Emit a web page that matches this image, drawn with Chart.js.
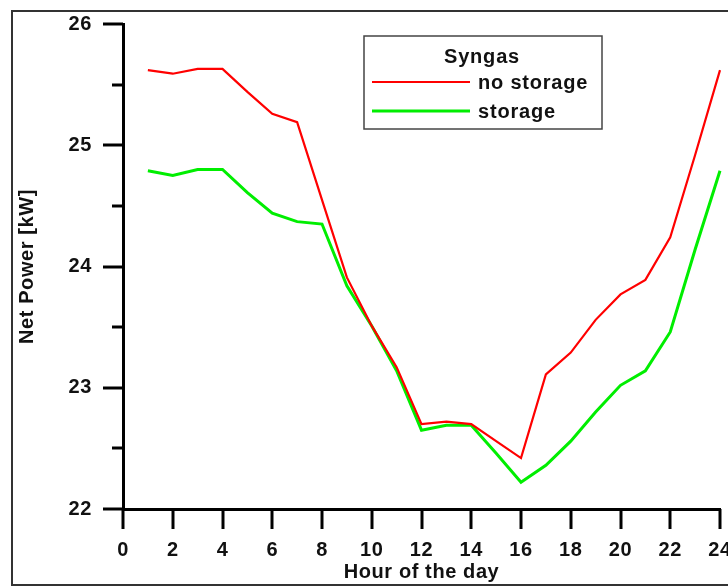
<!DOCTYPE html>
<html>
<head>
<meta charset="utf-8">
<script src="https://cdn.jsdelivr.net/npm/chart.js@4/dist/chart.umd.min.js"></script>
<style>
  html, body { margin: 0; padding: 0; background: #fff; }
  #wrap { position: relative; width: 728px; height: 586px; }
</style>
</head>
<body>
<div id="wrap"><canvas id="c" width="728" height="586"></canvas></div>
<script>
// Hour of the day
const hours = [1, 2, 3, 4, 5, 6, 7, 8, 9, 10, 11, 12, 13, 14, 15, 16, 17, 18, 19, 20, 21, 22, 23, 24];
// Net power [kW] without storage
const noStorage = [25.62, 25.59, 25.63, 25.63, 25.44, 25.26, 25.19, 24.55, 23.91, 23.51, 23.17, 22.70,
                   22.72, 22.70, 22.56, 22.42, 23.11, 23.29, 23.56, 23.77, 23.89, 24.24, 24.92, 25.62];
// Net power [kW] with storage
const storage = [24.79, 24.75, 24.80, 24.80, 24.61, 24.44, 24.37, 24.35, 23.84, 23.51, 23.14, 22.65,
                 22.69, 22.69, 22.46, 22.22, 22.36, 22.56, 22.80, 23.02, 23.14, 23.46, 24.14, 24.79];
const seriesLabels = ['no storage', 'storage'];
const legendTitle = 'Syngas';
const xTitle = 'Hour of the day';
const yTitle = 'Net Power [kW]';

const FONT = '"Liberation Sans", Arial, sans-serif';

const toPoints = (ys) => hours.map((h, i) => ({ x: h, y: ys[i] }));

// Outer frame, slight letter spacing for all text
const framePlugin = {
  id: 'frame',
  beforeDraw(chart) {
    const ctx = chart.ctx;
    ctx.save();
    ctx.fillStyle = '#fff';
    ctx.fillRect(0, 0, chart.width, chart.height);
    ctx.lineWidth = 2;
    ctx.strokeStyle = '#333';
    ctx.strokeRect(12, 11, 800, 574);
    ctx.restore();
    ctx.letterSpacing = '0.6px';
  }
};

// Tick marks: major and minor on y, major on x
const tickPlugin = {
  id: 'ticks',
  afterDatasetsDraw(chart) {
    const ctx = chart.ctx;
    const xs = chart.scales.x, ys = chart.scales.y;
    const left = chart.chartArea.left, bottom = chart.chartArea.bottom;
    ctx.save();
    ctx.strokeStyle = '#000';
    ctx.lineWidth = 3;
    ctx.lineCap = 'butt';
    for (let v = 22; v <= 26.001; v += 0.5) {
      const y = Math.round(ys.getPixelForValue(v));
      const major = Math.abs(v - Math.round(v)) < 1e-6;
      ctx.beginPath();
      ctx.moveTo(left - (major ? 20 : 11), y);
      ctx.lineTo(left, y);
      ctx.stroke();
    }
    for (let v = 0; v <= 24; v += 2) {
      const x = Math.round(xs.getPixelForValue(v));
      ctx.beginPath();
      ctx.moveTo(x, bottom);
      ctx.lineTo(x, bottom + 20);
      ctx.stroke();
    }
    ctx.restore();
  }
};

// Boxed legend with title inside the plot
const legendPlugin = {
  id: 'boxLegend',
  afterDraw(chart) {
    const ctx = chart.ctx;
    ctx.save();
    ctx.letterSpacing = '0.8px';
    const bx = 364, by = 36, bw = 238, bh = 93;
    ctx.fillStyle = '#fff';
    ctx.fillRect(bx, by, bw, bh);
    ctx.strokeStyle = '#444';
    ctx.lineWidth = 1.5;
    ctx.strokeRect(bx, by, bw, bh);
    ctx.fillStyle = '#111';
    ctx.font = 'bold 20px ' + FONT;
    ctx.textBaseline = 'middle';
    ctx.textAlign = 'center';
    ctx.fillText(legendTitle, bx + 118, by + 21);
    ctx.textAlign = 'left';
    const rows = [by + 46, by + 75];
    chart.data.datasets.forEach((ds, i) => {
      ctx.strokeStyle = ds.borderColor;
      ctx.lineWidth = ds.borderWidth;
      ctx.beginPath();
      ctx.moveTo(bx + 8, rows[i]);
      ctx.lineTo(bx + 106, rows[i]);
      ctx.stroke();
      ctx.fillStyle = '#111';
      ctx.fillText(ds.label, bx + 114, rows[i] + 1);
    });
    ctx.restore();
  }
};

new Chart(document.getElementById('c'), {
  type: 'line',
  data: {
    datasets: [
      { label: seriesLabels[0], data: toPoints(noStorage), borderColor: '#ff0000', borderWidth: 2.2,
        pointRadius: 0, tension: 0, fill: false, clip: false },
      { label: seriesLabels[1], data: toPoints(storage), borderColor: '#00ee00', borderWidth: 3,
        pointRadius: 0, tension: 0, fill: false, clip: false }
    ]
  },
  options: {
    responsive: false,
    animation: false,
    devicePixelRatio: 1,
    layout: { padding: { left: 0, top: 24, right: 8, bottom: 0 } },
    plugins: { legend: { display: false }, tooltip: { enabled: false } },
    scales: {
      x: {
        type: 'linear', min: 0, max: 24,
        grid: { display: false, drawTicks: false },
        border: { display: true, color: '#000', width: 3 },
        ticks: { stepSize: 2, padding: 29, color: '#111', font: { family: FONT, size: 20, weight: 'bold' },
                 maxRotation: 0, autoSkip: false },
        title: { display: true, text: xTitle, color: '#111', padding: { top: 0, bottom: 2 },
                 font: { family: FONT, size: 20, weight: 'bold' } },
        afterFit(scale) { scale.height = 77; scale.paddingLeft = 0; scale.paddingRight = 0; }
      },
      y: {
        type: 'linear', min: 22, max: 26,
        grid: { display: false, drawTicks: false },
        border: { display: true, color: '#000', width: 3 },
        ticks: { stepSize: 1, padding: 31, color: '#111', font: { family: FONT, size: 20, weight: 'bold' } },
        title: { display: true, text: yTitle, color: '#111', padding: { top: 15, bottom: 0 },
                 font: { family: FONT, size: 20, weight: 'bold' } },
        afterFit(scale) { scale.width = 123; scale.paddingTop = 0; scale.paddingBottom = 0; }
      }
    }
  },
  plugins: [framePlugin, tickPlugin, legendPlugin]
});
</script>
</body>
</html>
